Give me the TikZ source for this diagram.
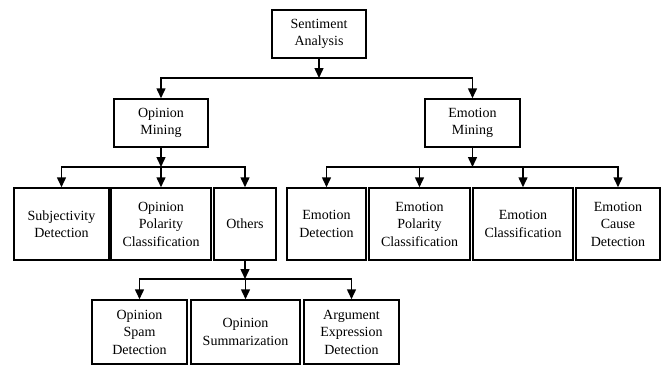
\documentclass[tikz,border=0pt]{standalone}
\usepackage{fontspec}
\setmainfont{Liberation Serif}
\usetikzlibrary{positioning,arrows.meta}

\begin{document}
\begin{tikzpicture}
  [x=1pt,y=-1pt,
   boxN/.style={draw,line width=1.5pt,fill=white,align=center,inner sep=1pt,
                font=\fontsize{14}{17.5}\selectfont},
   arrowE/.style={line width=1.5pt,-{Triangle[length=10pt,width=9pt]}},
   busE/.style={line width=1.5pt,line cap=rect}]

  \useasboundingbox[fill=white] (0,0) rectangle (665,367);

  % top levels
  \node[boxN,minimum width=94pt,minimum height=48pt] (sa) at (319,34)   {Sentiment\\Analysis};
  \node[boxN,minimum width=94pt,minimum height=48pt] (om) at (161,123)  {Opinion\\Mining};
  \node[boxN,minimum width=95pt,minimum height=48pt] (em) at (472.5,123) {Emotion\\Mining};

  % second row
  \node[boxN,minimum width=95pt,minimum height=72pt]  (subj) at (61.5,224)  {Subjectivity\\Detection};
  \node[boxN,minimum width=100pt,minimum height=72pt] (opc)  at (161,224)   {Opinion\\Polarity\\Classification};
  \node[boxN,minimum width=62pt,minimum height=72pt]  (oth)  at (245,224)   {Others};
  \node[boxN,minimum width=79pt,minimum height=72pt]  (ed)   at (326.5,224) {Emotion\\Detection};
  \node[boxN,minimum width=101pt,minimum height=72pt] (epc)  at (419.5,224) {Emotion\\Polarity\\Classification};
  \node[boxN,minimum width=100pt,minimum height=72pt] (ec)   at (523,224)   {Emotion\\Classification};
  \node[boxN,minimum width=84pt,minimum height=72pt]  (ecd)  at (618,224)   {Emotion\\Cause\\Detection};

  % third row
  \node[boxN,minimum width=95pt,minimum height=64pt]  (osd) at (139.5,332) {Opinion\\Spam\\Detection};
  \node[boxN,minimum width=109pt,minimum height=64pt] (os)  at (245.5,332) {Opinion\\Summarization};
  \node[boxN,minimum width=95pt,minimum height=64pt]  (aed) at (351.5,332) {Argument\\Expression\\Detection};

  % buses
  \coordinate (busA) at (319,78);
  \coordinate (busB) at (161,167);
  \coordinate (busC) at (472.5,167);
  \coordinate (busD) at (245,279);

  \draw[arrowE] (sa) -- (busA);
  \draw[busE] (om.north |- busA) -- (em.north |- busA);
  \foreach \n in {om,em}
    \draw[arrowE] (\n.north |- busA) -- (\n);

  \draw[arrowE] (om) -- (busB);
  \draw[busE] (subj.north |- busB) -- (oth.north |- busB);
  \foreach \n in {subj,opc,oth}
    \draw[arrowE] (\n.north |- busB) -- (\n);

  \draw[arrowE] (em) -- (busC);
  \draw[busE] (ed.north |- busC) -- (ecd.north |- busC);
  \foreach \n in {ed,epc,ec,ecd}
    \draw[arrowE] (\n.north |- busC) -- (\n);

  \draw[arrowE] (oth) -- (busD);
  \draw[busE] (osd.north |- busD) -- (aed.north |- busD);
  \foreach \n in {osd,os,aed}
    \draw[arrowE] (\n.north |- busD) -- (\n);

\end{tikzpicture}
\end{document}
